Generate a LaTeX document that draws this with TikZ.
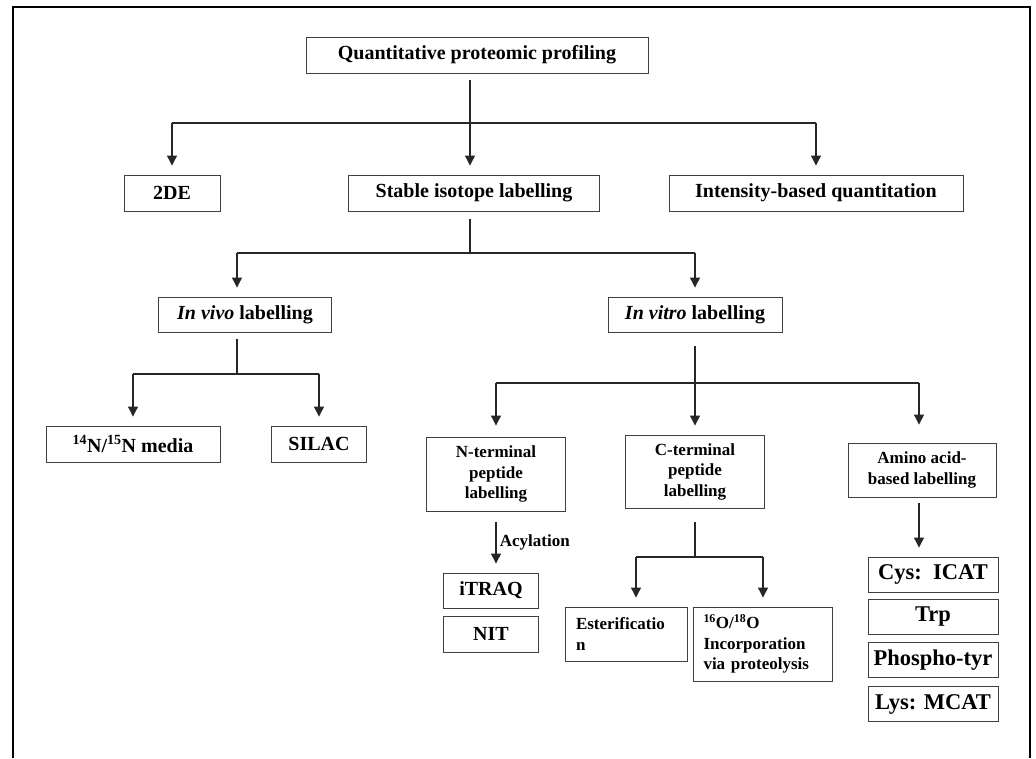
\documentclass[tikz,border=0pt]{standalone}
\usepackage{fontspec}
\setmainfont{Liberation Serif}
\usetikzlibrary{arrows.meta}

\tikzset{
  box/.style={draw=black!75, line width=0.9pt, fill=white, inner sep=2pt, align=center,
    font=\fontsize{20}{23}\selectfont\bfseries},
  smallbox/.style={box, font=\fontsize{17}{20.5}\selectfont\bfseries},
  bigbox/.style={box, font=\fontsize{22.5}{25}\selectfont\bfseries,
    minimum width=130pt, minimum height=35pt},
  link/.style={draw=black!85, line width=1.1pt},
  arr/.style={link, -{Triangle[width=10pt,length=10pt]}, shorten >=9pt},
}

\begin{document}
\begin{tikzpicture}[x=1pt,y=-1pt]
\useasboundingbox (0,0) rectangle (1036,758);
\draw[line width=2.6pt] (13,758) -- (13,7) -- (1030,7) -- (1030,758);

% top level
\node[box, minimum width=342pt, minimum height=36pt] (top) at (477,55) {Quantitative proteomic profiling};

\node[box, minimum width=96pt, minimum height=36pt]  (dde)    at (172,193) {2DE};
\node[box, minimum width=251pt, minimum height=36pt] (stable) at (474,193) {Stable isotope labelling};
\node[box, minimum width=294pt, minimum height=36pt] (intens) at (816,193) {Intensity-based quantitation};

\node[box, minimum width=173pt, minimum height=35pt] (invivo)  at (245,314.5) {\textit{In vivo} labelling};
\node[box, minimum width=174pt, minimum height=35pt] (invitro) at (695,314.5) {\textit{In vitro} labelling};

\node[box, minimum width=174pt, minimum height=36pt] (nmedia) at (133,444) {\textsuperscript{14}N/\textsuperscript{15}N media};
\node[box, minimum width=95pt, minimum height=36pt]  (silac)  at (319,444) {SILAC};

% in vitro branches
\node[smallbox, minimum width=139pt, minimum height=74pt] (nterm) at (496,474) {N-terminal\\peptide\\labelling};
\node[smallbox, minimum width=139pt, minimum height=73pt] (cterm) at (695,471.5) {C-terminal\\peptide\\labelling};
\node[smallbox, minimum width=148pt, minimum height=54pt] (amino) at (922,470) {Amino acid-\\based labelling};

\node[box, minimum width=95pt, minimum height=35pt] (itraq) at (491,590.5) {iTRAQ};
\node[box, minimum width=95pt, minimum height=36pt] (nit)   at (491,634) {NIT};

\node[smallbox, minimum width=122pt, minimum height=54pt, text width=100pt, align=left] (ester) at (626,634) {Esterificatio\\n};
\node[smallbox, minimum width=139pt, minimum height=74pt, text width=119pt, align=left] (oxy) at (763,644)
  {\textsuperscript{16}O/\textsuperscript{18}O\\Incorporation\\via proteolysis};

\foreach \n/\t/\y in {cys/{Cys:~~ICAT}/574.5, trp/Trp/616.5, phos/Phospho-tyr/660, lys/{Lys: MCAT}/704}
  \node[bigbox] (\n) at (933,\y) {\t};

% connectors
\coordinate (b1) at (470,123);
\draw[link, shorten <=7pt] (b1 |- top.south) -- (b1);
\draw[link] (b1 -| dde) -- (b1 -| intens);
\draw[arr] (b1 -| dde) -- (dde.north);
\draw[arr] (b1) -- (b1 |- stable.north);
\draw[arr] (b1 -| intens) -- (intens.north);

\coordinate (b2) at (470,253);
\coordinate (v1) at (237,253);
\coordinate (v2) at (695,253);
\draw[link, shorten <=8pt] (b2 |- stable.south) -- (b2);
\draw[link] (v1) -- (v2);
\draw[arr] (v1) -- (v1 |- invivo.north);
\draw[arr] (v2) -- (invitro.north);

\coordinate (b3) at (237,374);
\draw[link, shorten <=7pt] (b3 |- invivo.south) -- (b3);
\draw[link] (b3 -| nmedia) -- (b3 -| silac);
\draw[arr] (b3 -| nmedia) -- (nmedia.north);
\draw[arr] (b3 -| silac) -- (silac.north);

\coordinate (b4) at (695,383);
\coordinate (a1) at (919,383);
\draw[link, shorten <=14pt] (invitro.south) -- (b4);
\draw[link] (b4 -| nterm) -- (a1);
\draw[arr, shorten >=11pt] (b4 -| nterm) -- (nterm.north);
\draw[arr] (b4) -- (cterm.north);
\draw[arr, shorten >=18pt] (a1) -- (a1 |- amino.north);

\draw[arr, shorten <=11pt] (nterm.south) -- (nterm.south |- itraq.north)
  node[midway, right, font=\fontsize{17}{20}\selectfont\bfseries] {Acylation};

\coordinate (b5) at (695,557);
\coordinate (e1) at (636,557);
\coordinate (e2) at (763,557);
\draw[link, shorten <=14pt] (cterm.south) -- (b5);
\draw[link] (e1) -- (e2);
\draw[arr] (e1) -- (e1 |- ester.north);
\draw[arr] (e2) -- (oxy.north);

\draw[arr, shorten <=6pt] (a1 |- amino.south) -- (a1 |- cys.north);

\end{tikzpicture}
\end{document}
